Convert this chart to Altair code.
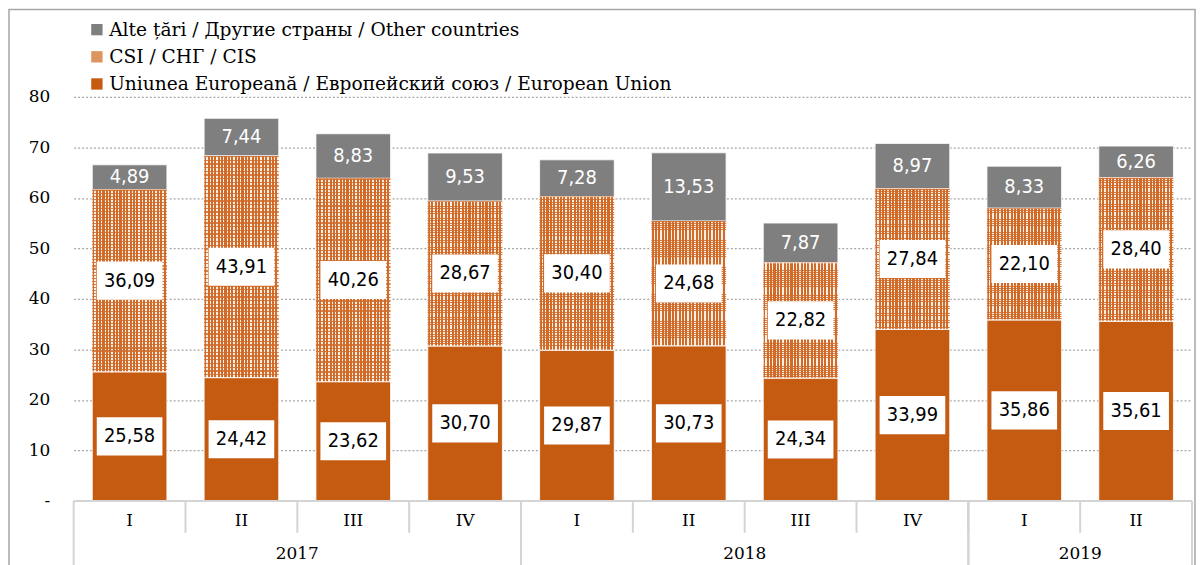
import altair as alt
import pandas as pd

quarters = ["I", "II", "III", "IV", "I", "II", "III", "IV", "I", "II"]
years = ["2017", "2017", "2017", "2017", "2018", "2018", "2018", "2018", "2019", "2019"]
eu = [25.58, 24.42, 23.62, 30.70, 29.87, 30.73, 24.34, 33.99, 35.86, 35.61]
cis = [36.09, 43.91, 40.26, 28.67, 30.40, 24.68, 22.82, 27.84, 22.10, 28.40]
other = [4.89, 7.44, 8.83, 9.53, 7.28, 13.53, 7.87, 8.97, 8.33, 6.26]
region_names = [
    "Alte țări / Другие страны / Other countries",
    "CSI / СНГ / CIS",
    "Uniunea Europeană / Европейский союз / European Union",
]
y_ticks = [0, 10, 20, 30, 40, 50, 60, 70, 80]

ORANGE = "#C55A11"
GRAY = "#7F7F7F"
CIS_BLEND = "#DD955F"
SERIF = "DejaVu Serif"
SANS = "DejaVu Sans Condensed, Liberation Sans Narrow, Roboto, sans-serif"

rows = []
for i in range(len(quarters)):
    base = 0.0
    for rname, series, order in ((region_names[2], eu, 0), (region_names[1], cis, 1), (region_names[0], other, 2)):
        v = series[i]
        rows.append({
            "idx": i, "quarter": quarters[i], "year": years[i], "region": rname,
            "order": order, "value": v, "y0": base, "y1": base + v,
            "mid": base + v / 2, "label": f"{v:.2f}".replace(".", ","),
        })
        base += v
df = pd.DataFrame(rows)

cats = pd.DataFrame({"idx": list(range(len(quarters))), "quarter": quarters, "year": years})

n = len(quarters)
xscale = alt.Scale(domain=[-0.5, n - 0.5], nice=False, zero=False, padding=0)
W, H = 1124, 406

# fine stripe gradients approximating the CIS dotted pattern
def stripes(periods, frac, c1, c2):
    st = []
    for k in range(periods):
        a = k / periods
        b = (k + frac) / periods
        c = (k + 1) / periods
        st += [
            {"offset": a, "color": c1},
            {"offset": b, "color": c1},
            {"offset": b, "color": c2},
            {"offset": c, "color": c2},
        ]
    return st

cis_grad_v = alt.LinearGradient(gradient="linear", x1=0, y1=0, x2=1, y2=0,
                                stops=stripes(22, 0.62, "#D06B2A", "#FBEFE6"))
cis_grad_h = alt.LinearGradient(gradient="linear", x1=0, y1=0, x2=0, y2=1,
                                stops=stripes(60, 0.35, "rgba(208,107,42,0.85)", "rgba(255,255,255,0)"))

frame = alt.Chart(pd.DataFrame({"k": [0]})).mark_rect(
    fill=None, stroke="#A6A6A6", strokeWidth=1.5
).encode(
    x=alt.value(-65), x2=alt.value(1127), y=alt.value(-88), y2=alt.value(H + 80)
)

bars = alt.Chart(df).mark_bar(width=75, stroke="white", strokeWidth=0.8).encode(
    x=alt.X("idx:Q", scale=xscale, axis=None),
    y=alt.Y("y0:Q", scale=alt.Scale(domain=[0, 80], nice=False),
            axis=alt.Axis(values=y_ticks, grid=True, gridDash=[2, 2], gridColor="#A6A6A6",
                          gridWidth=1.2, domain=False, ticks=False, labelFont=SERIF,
                          labelFontSize=17, labelColor="#000000", labelPadding=24,
                          labelExpr="datum.value == 0 ? '-' : datum.label", title=None)),
    y2="y1:Q",
    color=alt.Color("region:N", scale=alt.Scale(domain=region_names, range=[GRAY, CIS_BLEND, ORANGE]),
                    legend=alt.Legend(orient="none", legendX=14, legendY=-77, title=None,
                                      symbolType="square", symbolSize=130, symbolStrokeWidth=0,
                                      labelFont=SERIF, labelFontSize=18.7, labelColor="#000000",
                                      labelLimit=800, rowPadding=7.3, labelOffset=3,
                                      direction="vertical")),
)

cis_bars_v = alt.Chart(df).transform_filter(alt.datum.order == 1).mark_bar(
    width=75, fill=cis_grad_v, stroke="white", strokeWidth=0.8
).encode(
    x=alt.X("idx:Q", scale=xscale, axis=None),
    y="y0:Q", y2="y1:Q",
)
cis_bars_h = alt.Chart(df).transform_filter(alt.datum.order == 1).mark_bar(
    width=75, fill=cis_grad_h, strokeWidth=0
).encode(
    x=alt.X("idx:Q", scale=xscale, axis=None),
    y="y0:Q", y2="y1:Q",
)

boxes = alt.Chart(df).transform_filter(alt.datum.order < 2).mark_point(
    shape="M-1,-0.58L1,-0.58L1,0.58L-1,0.58Z", filled=True, fill="white", opacity=1,
    strokeWidth=0, size=66 * 66,
).encode(
    x=alt.X("idx:Q", scale=xscale, axis=None),
    y="mid:Q",
)

labels_dark = alt.Chart(df).transform_filter(alt.datum.order < 2).mark_text(
    font=SANS, fontSize=20, color="#000000", baseline="middle"
).encode(x=alt.X("idx:Q", scale=xscale, axis=None), y="mid:Q", text="label:N")

labels_light = alt.Chart(df).transform_filter(alt.datum.order == 2).mark_text(
    font=SANS, fontSize=20, color="#FFFFFF", baseline="middle"
).encode(x=alt.X("idx:Q", scale=xscale, axis=None), y="mid:Q", text="label:N")

AX = "#D4D4D4"
base_line = alt.Chart(cats).transform_aggregate(
    lo="min(idx)", hi="max(idx)"
).transform_calculate(
    lo="datum.lo - 0.5", hi="datum.hi + 0.5", z="0"
).mark_rule(color=AX, strokeWidth=2).encode(
    x=alt.X("lo:Q", scale=xscale, axis=None), x2="hi:Q", y="z:Q"
)

q_ticks = alt.Chart(cats).transform_calculate(b="datum.idx + 0.5").transform_filter(
    "datum.idx < %d" % (n - 1)
).mark_rule(color=AX, strokeWidth=2).encode(
    x=alt.X("b:Q", scale=xscale, axis=None), y=alt.value(H), y2=alt.value(H + 32)
)

year_bounds = alt.Chart(cats).transform_aggregate(
    lo="min(idx)", hi="max(idx)", groupby=["year"]
).transform_fold(["lo", "hi"], as_=["side", "pos"]).transform_calculate(
    b="datum.side == 'lo' ? datum.pos - 0.5 : datum.pos + 0.5"
).mark_rule(color=AX, strokeWidth=2).encode(
    x=alt.X("b:Q", scale=xscale, axis=None), y=alt.value(H), y2=alt.value(H + 70)
)

q_labels = alt.Chart(cats).mark_text(font=SERIF, fontSize=17, color="#000000", baseline="middle").encode(
    x=alt.X("idx:Q", scale=xscale, axis=None), y=alt.value(H + 20), text="quarter:N"
)

year_labels = alt.Chart(cats).transform_aggregate(
    c="mean(idx)", groupby=["year"]
).mark_text(font=SERIF, fontSize=17, color="#000000", baseline="middle").encode(
    x=alt.X("c:Q", scale=xscale, axis=None), y=alt.value(H + 53), text="year:N"
)

chart = alt.layer(
    frame, bars, cis_bars_v, cis_bars_h, boxes, labels_dark, labels_light,
    base_line, q_ticks, year_bounds, q_labels, year_labels
).properties(
    width=W, height=H,
    padding={"left": 66, "top": 88, "right": 4, "bottom": 63},
    autosize=alt.AutoSizeParams(type="none"),
).configure_view(stroke=None)

chart.save("out.html", embed_options={"renderer": "svg", "actions": False})
